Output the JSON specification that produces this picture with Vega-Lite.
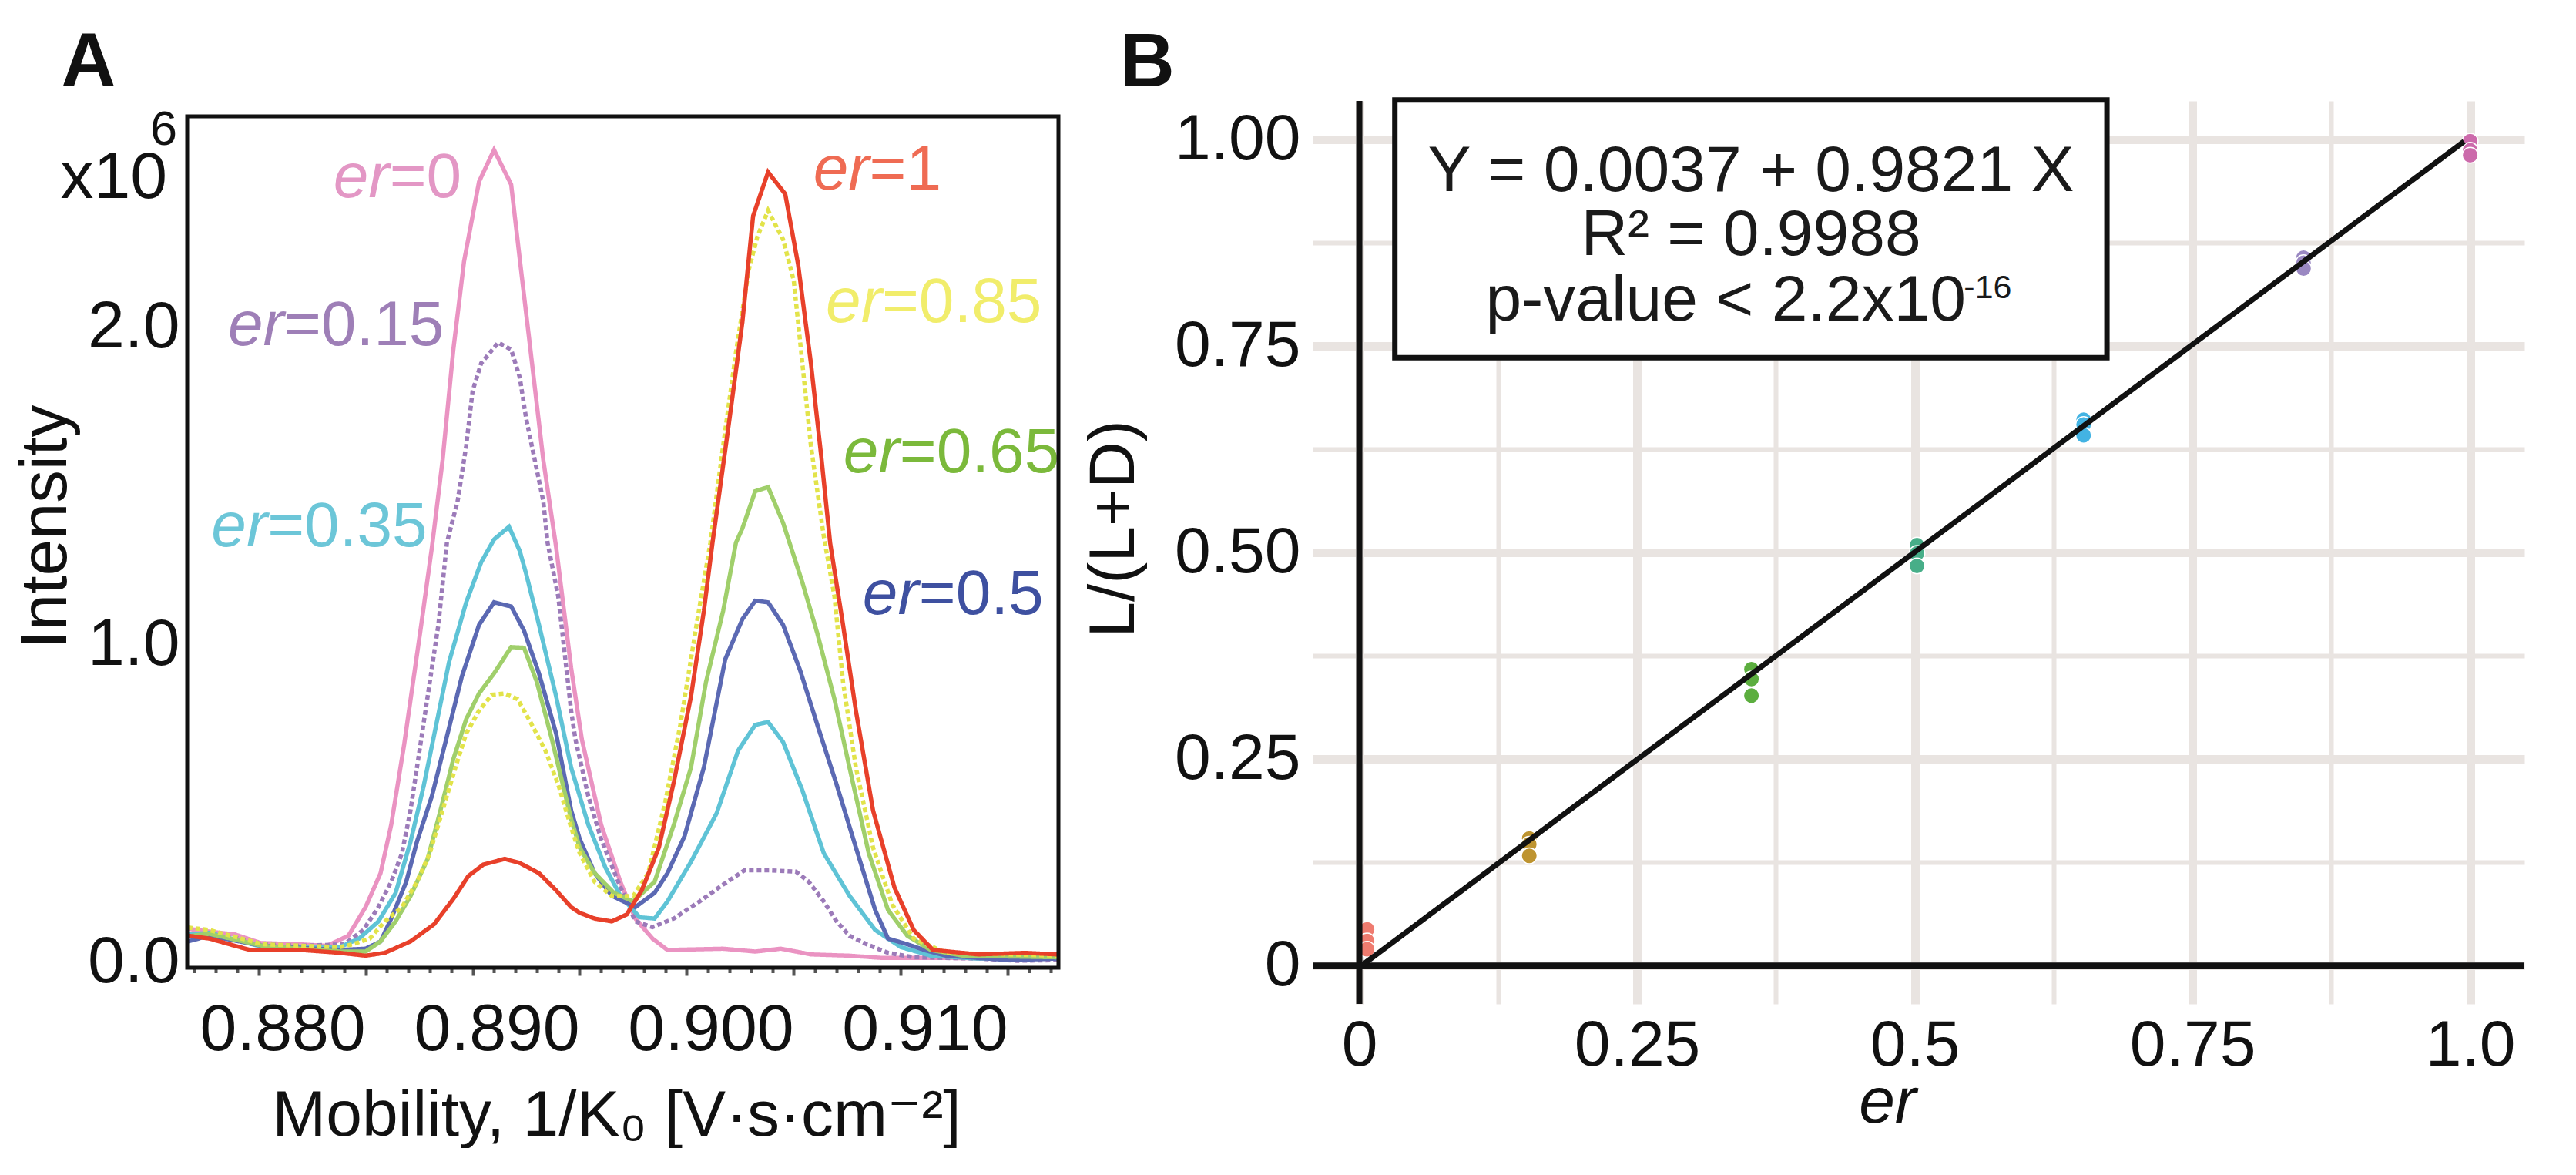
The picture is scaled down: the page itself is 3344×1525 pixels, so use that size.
{
"$schema":"https://vega.github.io/schema/vega-lite/v6.json",
"background":"white",
"padding":{"left":17,"top":33,"right":0,"bottom":0},
"spacing":20,
"config":{"font":"Liberation Sans, DejaVu Sans, sans-serif","view":{"stroke":null},
 "axis":{"labelFont":"Liberation Sans, DejaVu Sans, sans-serif","titleFont":"Liberation Sans, DejaVu Sans, sans-serif","labelColor":"#111111","titleColor":"#111111","titleFontWeight":"normal","labelFontSize":86,"titleFontSize":84,"labelOverlap":false,"labelFlush":false,"labelLimit":1000,"titleLimit":3000}},
"datasets":{
"spectra":[
{"er":"0","mobility":0.8767,"intensity":0.104},{"er":"0","mobility":0.8777,"intensity":0.095},{"er":"0","mobility":0.8789,"intensity":0.086},{"er":"0","mobility":0.8801,"intensity":0.059},{"er":"0","mobility":0.8819,"intensity":0.055},{"er":"0","mobility":0.8832,"intensity":0.050},{"er":"0","mobility":0.8842,"intensity":0.082},{"er":"0","mobility":0.8850,"intensity":0.172},{"er":"0","mobility":0.8857,"intensity":0.279},{"er":"0","mobility":0.8862,"intensity":0.432},{"er":"0","mobility":0.8868,"intensity":0.683},{"er":"0","mobility":0.8876,"intensity":1.061},{"er":"0","mobility":0.8881,"intensity":1.306},{"er":"0","mobility":0.8886,"intensity":1.581},{"er":"0","mobility":0.8891,"intensity":1.928},{"er":"0","mobility":0.8896,"intensity":2.206},{"er":"0","mobility":0.8903,"intensity":2.457},{"er":"0","mobility":0.8910,"intensity":2.557},{"er":"0","mobility":0.8918,"intensity":2.448},{"er":"0","mobility":0.8922,"intensity":2.214},{"er":"0","mobility":0.8927,"intensity":1.928},{"er":"0","mobility":0.8933,"intensity":1.581},{"er":"0","mobility":0.8939,"intensity":1.306},{"er":"0","mobility":0.8946,"intensity":0.926},{"er":"0","mobility":0.8951,"intensity":0.701},{"er":"0","mobility":0.8960,"intensity":0.432},{"er":"0","mobility":0.8969,"intensity":0.252},{"er":"0","mobility":0.8976,"intensity":0.136},{"er":"0","mobility":0.8984,"intensity":0.073},{"er":"0","mobility":0.8991,"intensity":0.037},{"er":"0","mobility":0.9017,"intensity":0.041},{"er":"0","mobility":0.9032,"intensity":0.032},{"er":"0","mobility":0.9044,"intensity":0.041},{"er":"0","mobility":0.9058,"intensity":0.023},{"er":"0","mobility":0.9076,"intensity":0.019},{"er":"0","mobility":0.9091,"intensity":0.012},{"er":"0","mobility":0.9121,"intensity":0.012},{"er":"0","mobility":0.9151,"intensity":0.010},{"er":"0","mobility":0.9173,"intensity":0.010},
{"er":"0.15","mobility":0.8767,"intensity":0.080},{"er":"0.15","mobility":0.8777,"intensity":0.090},{"er":"0.15","mobility":0.8790,"intensity":0.075},{"er":"0.15","mobility":0.8802,"intensity":0.055},{"er":"0.15","mobility":0.8820,"intensity":0.050},{"er":"0.15","mobility":0.8840,"intensity":0.055},{"er":"0.15","mobility":0.8849,"intensity":0.100},{"er":"0.15","mobility":0.8856,"intensity":0.172},{"er":"0.15","mobility":0.8862,"intensity":0.252},{"er":"0.15","mobility":0.8867,"intensity":0.342},{"er":"0.15","mobility":0.8871,"intensity":0.477},{"er":"0.15","mobility":0.8876,"intensity":0.701},{"er":"0.15","mobility":0.8880,"intensity":0.881},{"er":"0.15","mobility":0.8884,"intensity":1.061},{"er":"0.15","mobility":0.8888,"intensity":1.320},{"er":"0.15","mobility":0.8893,"intensity":1.451},{"er":"0.15","mobility":0.8897,"intensity":1.625},{"er":"0.15","mobility":0.8900,"intensity":1.798},{"er":"0.15","mobility":0.8904,"intensity":1.885},{"er":"0.15","mobility":0.8912,"intensity":1.950},{"er":"0.15","mobility":0.8918,"intensity":1.928},{"er":"0.15","mobility":0.8922,"intensity":1.841},{"er":"0.15","mobility":0.8925,"intensity":1.711},{"er":"0.15","mobility":0.8929,"intensity":1.581},{"er":"0.15","mobility":0.8933,"intensity":1.451},{"er":"0.15","mobility":0.8935,"intensity":1.320},{"er":"0.15","mobility":0.8940,"intensity":1.150},{"er":"0.15","mobility":0.8943,"intensity":0.971},{"er":"0.15","mobility":0.8946,"intensity":0.791},{"er":"0.15","mobility":0.8948,"intensity":0.701},{"er":"0.15","mobility":0.8954,"intensity":0.522},{"er":"0.15","mobility":0.8960,"intensity":0.387},{"er":"0.15","mobility":0.8968,"intensity":0.252},{"er":"0.15","mobility":0.8976,"intensity":0.127},{"er":"0.15","mobility":0.8984,"intensity":0.109},{"er":"0.15","mobility":0.8994,"intensity":0.136},{"er":"0.15","mobility":0.9006,"intensity":0.190},{"er":"0.15","mobility":0.9017,"intensity":0.243},{"er":"0.15","mobility":0.9027,"intensity":0.288},{"er":"0.15","mobility":0.9039,"intensity":0.288},{"er":"0.15","mobility":0.9051,"intensity":0.284},{"er":"0.15","mobility":0.9057,"intensity":0.252},{"er":"0.15","mobility":0.9064,"intensity":0.190},{"er":"0.15","mobility":0.9070,"intensity":0.127},{"er":"0.15","mobility":0.9076,"intensity":0.082},{"er":"0.15","mobility":0.9084,"intensity":0.055},{"er":"0.15","mobility":0.9094,"intensity":0.028},{"er":"0.15","mobility":0.9106,"intensity":0.014},{"er":"0.15","mobility":0.9136,"intensity":0.010},{"er":"0.15","mobility":0.9154,"intensity":0.003},{"er":"0.15","mobility":0.9173,"intensity":0.005},
{"er":"0.35","mobility":0.8767,"intensity":0.086},{"er":"0.35","mobility":0.8777,"intensity":0.091},{"er":"0.35","mobility":0.8790,"intensity":0.068},{"er":"0.35","mobility":0.8802,"intensity":0.046},{"er":"0.35","mobility":0.8820,"intensity":0.046},{"er":"0.35","mobility":0.8838,"intensity":0.046},{"er":"0.35","mobility":0.8847,"intensity":0.073},{"er":"0.35","mobility":0.8856,"intensity":0.127},{"er":"0.35","mobility":0.8864,"intensity":0.216},{"er":"0.35","mobility":0.8871,"intensity":0.378},{"er":"0.35","mobility":0.8877,"intensity":0.549},{"er":"0.35","mobility":0.8883,"intensity":0.746},{"er":"0.35","mobility":0.8889,"intensity":0.944},{"er":"0.35","mobility":0.8897,"intensity":1.132},{"er":"0.35","mobility":0.8904,"intensity":1.258},{"er":"0.35","mobility":0.8910,"intensity":1.330},{"er":"0.35","mobility":0.8917,"intensity":1.370},{"er":"0.35","mobility":0.8922,"intensity":1.294},{"er":"0.35","mobility":0.8925,"intensity":1.222},{"er":"0.35","mobility":0.8931,"intensity":1.061},{"er":"0.35","mobility":0.8939,"intensity":0.836},{"er":"0.35","mobility":0.8946,"intensity":0.612},{"er":"0.35","mobility":0.8948,"intensity":0.567},{"er":"0.35","mobility":0.8954,"intensity":0.432},{"er":"0.35","mobility":0.8962,"intensity":0.297},{"er":"0.35","mobility":0.8969,"intensity":0.208},{"er":"0.35","mobility":0.8978,"intensity":0.140},{"er":"0.35","mobility":0.8985,"intensity":0.136},{"er":"0.35","mobility":0.8991,"intensity":0.190},{"er":"0.35","mobility":0.9002,"intensity":0.315},{"er":"0.35","mobility":0.9014,"intensity":0.468},{"er":"0.35","mobility":0.9024,"intensity":0.665},{"er":"0.35","mobility":0.9032,"intensity":0.746},{"er":"0.35","mobility":0.9038,"intensity":0.755},{"er":"0.35","mobility":0.9045,"intensity":0.692},{"er":"0.35","mobility":0.9054,"intensity":0.540},{"er":"0.35","mobility":0.9064,"intensity":0.342},{"er":"0.35","mobility":0.9076,"intensity":0.208},{"er":"0.35","mobility":0.9088,"intensity":0.100},{"er":"0.35","mobility":0.9100,"intensity":0.046},{"er":"0.35","mobility":0.9114,"intensity":0.019},{"er":"0.35","mobility":0.9136,"intensity":0.010},{"er":"0.35","mobility":0.9173,"intensity":0.014},
{"er":"0.5","mobility":0.8767,"intensity":0.064},{"er":"0.5","mobility":0.8777,"intensity":0.082},{"er":"0.5","mobility":0.8802,"intensity":0.050},{"er":"0.5","mobility":0.8838,"intensity":0.037},{"er":"0.5","mobility":0.8850,"intensity":0.041},{"er":"0.5","mobility":0.8857,"intensity":0.064},{"er":"0.5","mobility":0.8862,"intensity":0.136},{"er":"0.5","mobility":0.8869,"intensity":0.252},{"er":"0.5","mobility":0.8874,"intensity":0.378},{"er":"0.5","mobility":0.8881,"intensity":0.522},{"er":"0.5","mobility":0.8889,"intensity":0.737},{"er":"0.5","mobility":0.8895,"intensity":0.899},{"er":"0.5","mobility":0.8903,"intensity":1.061},{"er":"0.5","mobility":0.8910,"intensity":1.132},{"er":"0.5","mobility":0.8918,"intensity":1.119},{"er":"0.5","mobility":0.8924,"intensity":1.043},{"er":"0.5","mobility":0.8931,"intensity":0.908},{"er":"0.5","mobility":0.8939,"intensity":0.719},{"er":"0.5","mobility":0.8946,"intensity":0.477},{"er":"0.5","mobility":0.8950,"intensity":0.387},{"er":"0.5","mobility":0.8957,"intensity":0.279},{"er":"0.5","mobility":0.8965,"intensity":0.208},{"er":"0.5","mobility":0.8976,"intensity":0.172},{"er":"0.5","mobility":0.8985,"intensity":0.217},{"er":"0.5","mobility":0.8991,"intensity":0.279},{"er":"0.5","mobility":0.8999,"intensity":0.396},{"er":"0.5","mobility":0.9008,"intensity":0.612},{"er":"0.5","mobility":0.9018,"intensity":0.953},{"er":"0.5","mobility":0.9026,"intensity":1.079},{"er":"0.5","mobility":0.9032,"intensity":1.137},{"er":"0.5","mobility":0.9038,"intensity":1.132},{"er":"0.5","mobility":0.9045,"intensity":1.061},{"er":"0.5","mobility":0.9053,"intensity":0.917},{"er":"0.5","mobility":0.9061,"intensity":0.746},{"er":"0.5","mobility":0.9070,"intensity":0.558},{"er":"0.5","mobility":0.9079,"intensity":0.360},{"er":"0.5","mobility":0.9088,"intensity":0.163},{"er":"0.5","mobility":0.9094,"intensity":0.073},{"er":"0.5","mobility":0.9103,"intensity":0.055},{"er":"0.5","mobility":0.9111,"intensity":0.037},{"er":"0.5","mobility":0.9121,"intensity":0.019},{"er":"0.5","mobility":0.9151,"intensity":0.005},{"er":"0.5","mobility":0.9173,"intensity":0.010},
{"er":"0.65","mobility":0.8767,"intensity":0.080},{"er":"0.65","mobility":0.8777,"intensity":0.088},{"er":"0.65","mobility":0.8802,"intensity":0.050},{"er":"0.65","mobility":0.8838,"intensity":0.032},{"er":"0.65","mobility":0.8850,"intensity":0.032},{"er":"0.65","mobility":0.8857,"intensity":0.064},{"er":"0.65","mobility":0.8864,"intensity":0.127},{"er":"0.65","mobility":0.8871,"intensity":0.207},{"er":"0.65","mobility":0.8879,"intensity":0.324},{"er":"0.65","mobility":0.8885,"intensity":0.477},{"er":"0.65","mobility":0.8891,"intensity":0.638},{"er":"0.65","mobility":0.8897,"intensity":0.764},{"er":"0.65","mobility":0.8903,"intensity":0.845},{"er":"0.65","mobility":0.8910,"intensity":0.908},{"er":"0.65","mobility":0.8918,"intensity":0.991},{"er":"0.65","mobility":0.8924,"intensity":0.989},{"er":"0.65","mobility":0.8930,"intensity":0.881},{"er":"0.65","mobility":0.8937,"intensity":0.701},{"er":"0.65","mobility":0.8946,"intensity":0.450},{"er":"0.65","mobility":0.8950,"intensity":0.360},{"er":"0.65","mobility":0.8957,"intensity":0.279},{"er":"0.65","mobility":0.8966,"intensity":0.217},{"er":"0.65","mobility":0.8975,"intensity":0.190},{"er":"0.65","mobility":0.8985,"intensity":0.252},{"er":"0.65","mobility":0.8994,"intensity":0.432},{"er":"0.65","mobility":0.9002,"intensity":0.612},{"er":"0.65","mobility":0.9009,"intensity":0.881},{"er":"0.65","mobility":0.9017,"intensity":1.105},{"er":"0.65","mobility":0.9023,"intensity":1.320},{"er":"0.65","mobility":0.9026,"intensity":1.365},{"er":"0.65","mobility":0.9032,"intensity":1.482},{"er":"0.65","mobility":0.9038,"intensity":1.495},{"er":"0.65","mobility":0.9045,"intensity":1.382},{"er":"0.65","mobility":0.9048,"intensity":1.320},{"er":"0.65","mobility":0.9054,"intensity":1.195},{"er":"0.65","mobility":0.9061,"intensity":1.034},{"er":"0.65","mobility":0.9069,"intensity":0.827},{"er":"0.65","mobility":0.9076,"intensity":0.612},{"er":"0.65","mobility":0.9085,"intensity":0.342},{"er":"0.65","mobility":0.9094,"intensity":0.163},{"er":"0.65","mobility":0.9103,"intensity":0.082},{"er":"0.65","mobility":0.9114,"intensity":0.037},{"er":"0.65","mobility":0.9129,"intensity":0.019},{"er":"0.65","mobility":0.9173,"intensity":0.014},
{"er":"0.85","mobility":0.8767,"intensity":0.108},{"er":"0.85","mobility":0.8777,"intensity":0.100},{"er":"0.85","mobility":0.8802,"intensity":0.055},{"er":"0.85","mobility":0.8838,"intensity":0.046},{"er":"0.85","mobility":0.8844,"intensity":0.055},{"er":"0.85","mobility":0.8852,"intensity":0.073},{"er":"0.85","mobility":0.8859,"intensity":0.127},{"er":"0.85","mobility":0.8867,"intensity":0.172},{"er":"0.85","mobility":0.8874,"intensity":0.252},{"er":"0.85","mobility":0.8880,"intensity":0.342},{"er":"0.85","mobility":0.8886,"intensity":0.477},{"er":"0.85","mobility":0.8892,"intensity":0.612},{"er":"0.85","mobility":0.8897,"intensity":0.719},{"er":"0.85","mobility":0.8903,"intensity":0.791},{"er":"0.85","mobility":0.8909,"intensity":0.841},{"er":"0.85","mobility":0.8915,"intensity":0.845},{"er":"0.85","mobility":0.8921,"intensity":0.827},{"er":"0.85","mobility":0.8927,"intensity":0.755},{"er":"0.85","mobility":0.8934,"intensity":0.665},{"er":"0.85","mobility":0.8940,"intensity":0.558},{"er":"0.85","mobility":0.8946,"intensity":0.423},{"er":"0.85","mobility":0.8950,"intensity":0.342},{"er":"0.85","mobility":0.8957,"intensity":0.252},{"er":"0.85","mobility":0.8965,"intensity":0.207},{"er":"0.85","mobility":0.8975,"intensity":0.207},{"er":"0.85","mobility":0.8982,"intensity":0.279},{"er":"0.85","mobility":0.8990,"intensity":0.504},{"er":"0.85","mobility":0.8997,"intensity":0.746},{"er":"0.85","mobility":0.9005,"intensity":1.079},{"er":"0.85","mobility":0.9011,"intensity":1.318},{"er":"0.85","mobility":0.9017,"intensity":1.625},{"er":"0.85","mobility":0.9023,"intensity":1.920},{"er":"0.85","mobility":0.9029,"intensity":2.180},{"er":"0.85","mobility":0.9033,"intensity":2.284},{"er":"0.85","mobility":0.9038,"intensity":2.366},{"er":"0.85","mobility":0.9045,"intensity":2.275},{"er":"0.85","mobility":0.9050,"intensity":2.145},{"er":"0.85","mobility":0.9054,"intensity":1.885},{"er":"0.85","mobility":0.9058,"intensity":1.625},{"er":"0.85","mobility":0.9064,"intensity":1.340},{"er":"0.85","mobility":0.9069,"intensity":1.150},{"er":"0.85","mobility":0.9073,"intensity":0.881},{"er":"0.85","mobility":0.9079,"intensity":0.612},{"er":"0.85","mobility":0.9087,"intensity":0.360},{"er":"0.85","mobility":0.9096,"intensity":0.180},{"er":"0.85","mobility":0.9106,"intensity":0.073},{"er":"0.85","mobility":0.9121,"intensity":0.028},{"er":"0.85","mobility":0.9173,"intensity":0.019},
{"er":"1","mobility":0.8767,"intensity":0.082},{"er":"1","mobility":0.8777,"intensity":0.073},{"er":"1","mobility":0.8796,"intensity":0.037},{"er":"1","mobility":0.8820,"intensity":0.037},{"er":"1","mobility":0.8838,"intensity":0.028},{"er":"1","mobility":0.8850,"intensity":0.019},{"er":"1","mobility":0.8859,"intensity":0.028},{"er":"1","mobility":0.8871,"intensity":0.064},{"er":"1","mobility":0.8882,"intensity":0.118},{"er":"1","mobility":0.8891,"intensity":0.198},{"er":"1","mobility":0.8898,"intensity":0.270},{"er":"1","mobility":0.8905,"intensity":0.306},{"er":"1","mobility":0.8915,"intensity":0.324},{"er":"1","mobility":0.8922,"intensity":0.311},{"er":"1","mobility":0.8931,"intensity":0.279},{"er":"1","mobility":0.8939,"intensity":0.225},{"er":"1","mobility":0.8946,"intensity":0.172},{"er":"1","mobility":0.8950,"intensity":0.154},{"er":"1","mobility":0.8957,"intensity":0.136},{"er":"1","mobility":0.8965,"intensity":0.127},{"er":"1","mobility":0.8972,"intensity":0.149},{"er":"1","mobility":0.8979,"intensity":0.225},{"er":"1","mobility":0.8987,"intensity":0.360},{"er":"1","mobility":0.8994,"intensity":0.567},{"er":"1","mobility":0.9002,"intensity":0.836},{"er":"1","mobility":0.9008,"intensity":1.105},{"er":"1","mobility":0.9012,"intensity":1.318},{"er":"1","mobility":0.9020,"intensity":1.711},{"er":"1","mobility":0.9026,"intensity":2.015},{"er":"1","mobility":0.9031,"intensity":2.349},{"er":"1","mobility":0.9038,"intensity":2.487},{"er":"1","mobility":0.9046,"intensity":2.418},{"er":"1","mobility":0.9052,"intensity":2.197},{"er":"1","mobility":0.9058,"intensity":1.885},{"er":"1","mobility":0.9063,"intensity":1.581},{"er":"1","mobility":0.9067,"intensity":1.318},{"er":"1","mobility":0.9073,"intensity":1.061},{"er":"1","mobility":0.9079,"intensity":0.791},{"er":"1","mobility":0.9087,"intensity":0.477},{"er":"1","mobility":0.9097,"intensity":0.234},{"er":"1","mobility":0.9106,"intensity":0.100},{"er":"1","mobility":0.9115,"intensity":0.037},{"er":"1","mobility":0.9136,"intensity":0.023},{"er":"1","mobility":0.9158,"intensity":0.028},{"er":"1","mobility":0.9173,"intensity":0.023}
],
"labelsA":[
{"er":"0","mobility":0.88612,"intensity":2.409,"rest":"=0"},
{"er":"0.15","mobility":0.8812,"intensity":1.941,"rest":"=0.15"},
{"er":"0.35","mobility":0.88042,"intensity":1.308,"rest":"=0.35"},
{"er":"1","mobility":0.90853,"intensity":2.431,"rest":"=1"},
{"er":"0.85","mobility":0.90912,"intensity":2.015,"rest":"=0.85"},
{"er":"0.65","mobility":0.90994,"intensity":1.542,"rest":"=0.65"},
{"er":"0.5","mobility":0.91084,"intensity":1.095,"rest":"=0.5"}
],
"unitA":[{"mobility":0.87574,"intensity":2.406,"label":"x10"}],
"expA":[{"mobility":0.87494,"intensity":2.573,"label":"6"}],
"panelA":[{"mobility":0.87079,"intensity":2.9456,"label":"A"}],
"points":[
{"group":"0","er":0.007,"ratio":0.044},{"group":"0","er":0.007,"ratio":0.030},{"group":"0","er":0.007,"ratio":0.020},
{"group":"0.15","er":0.153,"ratio":0.154},{"group":"0.15","er":0.153,"ratio":0.147},{"group":"0.15","er":0.153,"ratio":0.133},
{"group":"0.35","er":0.353,"ratio":0.359},{"group":"0.35","er":0.353,"ratio":0.347},{"group":"0.35","er":0.353,"ratio":0.327},
{"group":"0.5","er":0.502,"ratio":0.509},{"group":"0.5","er":0.502,"ratio":0.499},{"group":"0.5","er":0.502,"ratio":0.484},
{"group":"0.65","er":0.652,"ratio":0.661},{"group":"0.65","er":0.652,"ratio":0.655},{"group":"0.65","er":0.652,"ratio":0.642},
{"group":"0.85","er":0.85,"ratio":0.857},{"group":"0.85","er":0.85,"ratio":0.851},{"group":"0.85","er":0.85,"ratio":0.844},
{"group":"1","er":1.0,"ratio":0.998},{"group":"1","er":1.0,"ratio":0.987},{"group":"1","er":1.0,"ratio":0.981}
],
"fit":[{"er":0.0025,"ratio":0.0007},{"er":0.9945,"ratio":0.9977}],
"box":[{"er":0.032,"er2":0.673,"ratio":1.048,"ratio2":0.736}],
"eqc":[
{"er":0.3526,"ratio":0.9374,"label":"Y = 0.0037 + 0.9821 X"},
{"er":0.3526,"ratio":0.8603,"label":"R² = 0.9988"}
],
"eqp":[{"er":0.546,"ratio":0.7811,"label":"p-value < 2.2x10"}],
"eqs":[{"er":0.5442,"ratio":0.8084,"label":"-16"}],
"panelB":[{"er":-0.2154,"ratio":1.1364,"label":"B"}]
},
"hconcat":[
{
"width":1131,"height":1125,
"resolve":{"scale":{"color":"independent"},"axis":{"x":"independent"}},
"layer":[
{"data":{"name":"spectra"},"mark":{"type":"line","strokeWidth":5.5},
 "encoding":{
  "x":{"field":"mobility","type":"quantitative","scale":{"domain":[0.87667,0.91736],"nice":false,"zero":false},
   "axis":{"orient":"bottom","title":"Mobility, 1/K₀ [V·s·cm⁻²]","values":[0.88,0.885,0.89,0.895,0.9,0.905,0.91,0.915],
    "labelExpr":"(round(datum.value*1000) % 10 == 0) ? format(datum.value, '.3f') : ''",
    "tickSize":10,"tickWidth":4,"tickColor":"#555555","domain":false,"grid":false,"labelPadding":28,"labelOffset":31,"titlePadding":28,"titleX":557,"titleFontSize":84}},
  "y":{"field":"intensity","type":"quantitative","scale":{"domain":[-0.0189,2.7112],"nice":false,"zero":false},
   "axis":{"title":"Intensity","values":[0,1,2],"format":".1f","ticks":false,"tickSize":0,"domain":false,"grid":false,"labelPadding":10,"titlePadding":10,"titleY":552,"titleFontSize":85}},
  "color":{"field":"er","type":"nominal","scale":{"domain":["0","0.15","0.35","0.5","0.65","0.85","1"],"range":["#ea93c2","#9c7bb9","#5fc3d6","#5b69b3","#a0cf6b","#e2e34a","#e8402a"]},"legend":null},
  "strokeDash":{"field":"er","type":"nominal","scale":{"domain":["0","0.15","0.35","0.5","0.65","0.85","1"],"range":[[1,0],[6,4],[1,0],[1,0],[1,0],[6,4],[1,0]]},"legend":null}
 }},
{"data":{"name":"labelsA"},"mark":{"type":"text","fontSize":82,"fontStyle":"italic","align":"right","baseline":"alphabetic"},
 "encoding":{"x":{"field":"mobility","type":"quantitative",
   "axis":{"orient":"bottom","title":null,"values":[0.877,0.878,0.879,0.881,0.882,0.883,0.884,0.886,0.887,0.888,0.889,0.891,0.892,0.893,0.894,0.896,0.897,0.898,0.899,0.901,0.902,0.903,0.904,0.906,0.907,0.908,0.909,0.911,0.912,0.913,0.914,0.916,0.917],"labels":false,"domain":false,"grid":false,"tickSize":6.5,"tickWidth":4,"tickColor":"#555555"}},
  "y":{"field":"intensity","type":"quantitative"},"text":{"value":"er"},
  "color":{"field":"er","type":"nominal","scale":{"domain":["0","0.15","0.35","0.5","0.65","0.85","1"],"range":["#e397c5","#9e7fb7","#6cc6d8","#3e50a0","#7bb93b","#f1ed6b","#ef6b53"]},"legend":null}}},
{"data":{"name":"labelsA"},"mark":{"type":"text","fontSize":82,"align":"left","baseline":"alphabetic"},
 "encoding":{"x":{"field":"mobility","type":"quantitative","axis":null},"y":{"field":"intensity","type":"quantitative"},"text":{"field":"rest"},
  "color":{"field":"er","type":"nominal","scale":{"domain":["0","0.15","0.35","0.5","0.65","0.85","1"],"range":["#e397c5","#9e7fb7","#6cc6d8","#3e50a0","#7bb93b","#f1ed6b","#ef6b53"]},"legend":null}}},
{"data":{"name":"unitA"},"mark":{"type":"text","fontSize":86,"align":"right","baseline":"alphabetic","color":"#111111"},
 "encoding":{"x":{"field":"mobility","type":"quantitative","axis":null},"y":{"field":"intensity","type":"quantitative"},"text":{"field":"label"}}},
{"data":{"name":"expA"},"mark":{"type":"text","fontSize":63,"align":"left","baseline":"alphabetic","color":"#111111"},
 "encoding":{"x":{"field":"mobility","type":"quantitative","axis":null},"y":{"field":"intensity","type":"quantitative"},"text":{"field":"label"}}},
{"data":{"name":"panelA"},"mark":{"type":"text","fontSize":98,"fontWeight":"bold","align":"left","baseline":"top","color":"#111111"},
 "encoding":{"x":{"field":"mobility","type":"quantitative","axis":null},"y":{"field":"intensity","type":"quantitative"},"text":{"field":"label"}}},
{"data":{"values":[{}]},"mark":{"type":"rect","filled":false,"color":"#111111","strokeWidth":5},
 "encoding":{"x":{"datum":0.87667,"type":"quantitative","axis":null},"x2":{"datum":0.91736},"y":{"datum":-0.0189,"type":"quantitative"},"y2":{"datum":2.6626}}}
]
},
{
"width":1573,"height":1172,
"layer":[
{"data":{"name":"points"},"mark":{"type":"circle","size":420,"opacity":1,"stroke":"white","strokeWidth":1.5},
 "encoding":{
  "x":{"field":"er","type":"quantitative","scale":{"domain":[-0.042,1.0488],"nice":false,"zero":false},
   "axis":{"title":"er","titleFontStyle":"italic","values":[0,0.125,0.25,0.375,0.5,0.625,0.75,0.875,1],
    "labelExpr":"datum.value == 0 ? '0' : datum.value == 0.25 ? '0.25' : datum.value == 0.5 ? '0.5' : datum.value == 0.75 ? '0.75' : datum.value == 1 ? '1.0' : ''",
    "ticks":false,"tickSize":0,"domain":false,"grid":true,"gridColor":"#e9e4e1",
    "gridWidth":{"condition":{"test":"abs(datum.value*4 - round(datum.value*4)) < 0.01","value":11},"value":6},
    "labelFontSize":84,"labelPadding":13,"titlePadding":-9,"titleX":746}},
  "y":{"field":"ratio","type":"quantitative","scale":{"domain":[-0.0463,1.0468],"nice":false,"zero":false},
   "axis":{"title":"L/(L+D)","values":[0,0.125,0.25,0.375,0.5,0.625,0.75,0.875,1],
    "labelExpr":"datum.value == 0 ? '0' : datum.value == 0.25 ? '0.25' : datum.value == 0.5 ? '0.50' : datum.value == 0.75 ? '0.75' : datum.value == 1 ? '1.00' : ''",
    "ticks":false,"tickSize":0,"domain":false,"grid":true,"gridColor":"#e9e4e1",
    "gridWidth":{"condition":{"test":"abs(datum.value*4 - round(datum.value*4)) < 0.01","value":11},"value":6},
    "labelFontSize":84,"labelPadding":16,"titlePadding":35,"titleY":555}},
  "color":{"field":"group","type":"nominal","scale":{"domain":["0","0.15","0.35","0.5","0.65","0.85","1"],"range":["#ef7b6f","#be9430","#5cae3f","#47ae88","#43b3e3","#9a88c2","#cc6aab"]},"legend":null}
 }},
{"data":{"values":[{}]},"mark":{"type":"rule","color":"#111111","strokeWidth":8},"encoding":{"x":{"datum":0,"type":"quantitative"}}},
{"data":{"values":[{}]},"mark":{"type":"rule","color":"#111111","strokeWidth":8},"encoding":{"y":{"datum":0,"type":"quantitative"}}},
{"data":{"name":"fit"},"mark":{"type":"line","color":"#111111","strokeWidth":7},
 "encoding":{"x":{"field":"er","type":"quantitative"},"y":{"field":"ratio","type":"quantitative"}}},
{"data":{"name":"box"},"mark":{"type":"rect","fill":"white","stroke":"#111111","strokeWidth":7},
 "encoding":{"x":{"field":"er","type":"quantitative"},"x2":{"field":"er2"},"y":{"field":"ratio","type":"quantitative"},"y2":{"field":"ratio2"}}},
{"data":{"name":"eqc"},"mark":{"type":"text","fontSize":84,"align":"center","baseline":"alphabetic","color":"#1a1a1a"},
 "encoding":{"x":{"field":"er","type":"quantitative"},"y":{"field":"ratio","type":"quantitative"},"text":{"field":"label"}}},
{"data":{"name":"eqp"},"mark":{"type":"text","fontSize":84,"align":"right","baseline":"alphabetic","color":"#1a1a1a"},
 "encoding":{"x":{"field":"er","type":"quantitative"},"y":{"field":"ratio","type":"quantitative"},"text":{"field":"label"}}},
{"data":{"name":"eqs"},"mark":{"type":"text","fontSize":43,"align":"left","baseline":"alphabetic","color":"#1a1a1a"},
 "encoding":{"x":{"field":"er","type":"quantitative"},"y":{"field":"ratio","type":"quantitative"},"text":{"field":"label"}}},
{"data":{"name":"panelB"},"mark":{"type":"text","fontSize":98,"fontWeight":"bold","align":"left","baseline":"top","color":"#111111"},
 "encoding":{"x":{"field":"er","type":"quantitative"},"y":{"field":"ratio","type":"quantitative"},"text":{"field":"label"}}}
]
}
]
}
